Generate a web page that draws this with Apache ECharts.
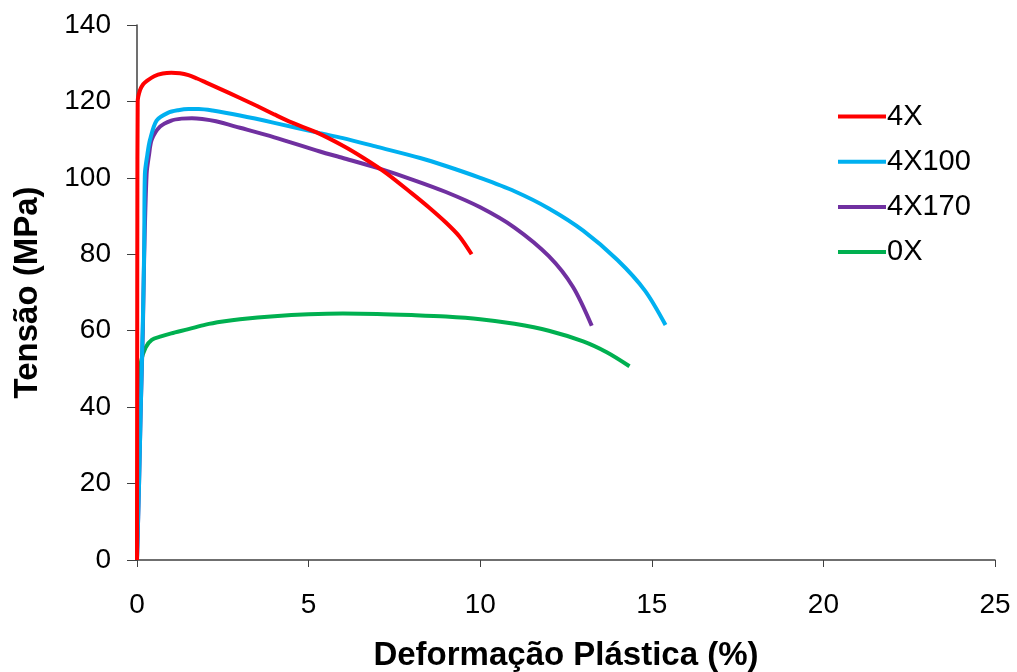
<!DOCTYPE html>
<html><head><meta charset="utf-8">
<script src="https://cdn.jsdelivr.net/npm/echarts@6/dist/echarts.min.js"></script>
<style>html,body{margin:0;padding:0;background:#fff}#c{width:1017px;height:672px}</style>
</head><body><div id="c"></div>
<script>
const seriesNames = ['4X', '4X100', '4X170', '0X'];
const xTicks = [0, 5, 10, 15, 20, 25];
const yTicks = [0, 20, 40, 60, 80, 100, 120, 140];
const s4X = [[0,0],[0.005,50],[0.01,90],[0.02,120],[0.09,123],[0.18,124.5],[0.28,125.3],[0.5,126.6],[0.75,127.3],[1,127.5],[1.25,127.4],[1.5,126.9],[1.75,126],[2,125],[2.42,123.3],[3,120.9],[3.5,118.8],[4,116.6],[4.5,114.5],[5.23,111.9],[6,108.4],[6.6,105.2],[7.27,101.2],[8,96],[8.5,92.3],[9,88.3],[9.4,84.6],[9.75,80]];
const s4X100 = [[0,0],[0.06,20],[0.11,40],[0.17,62],[0.21,82],[0.23,101],[0.3,106],[0.38,110],[0.57,115],[0.9,117],[1.2,117.7],[1.5,118],[1.8,118],[2.2,117.6],[3,116.3],[4,114.4],[5.33,111.7],[6,110.4],[7,108.1],[8.25,105.2],[9,103.1],[10,100],[11,96.5],[12,92],[13,86.2],[14,78.5],[14.8,70.5],[15.4,61.5]];
const s4X170 = [[0,0],[0.06,20],[0.11,40],[0.17,60],[0.21,80],[0.28,101],[0.35,106],[0.43,110],[0.67,113.4],[1,115],[1.3,115.5],[1.6,115.6],[1.9,115.4],[2.3,114.8],[3,113.1],[4,110.6],[5.33,106.9],[6,105.2],[7,102.6],[8.04,99.5],[9,96.3],[10,92.3],[11,87],[12,79.5],[12.7,71.5],[13.25,61.3]];
const s0X = [[0,0],[0.03,30],[0.07,46],[0.12,52],[0.25,55.6],[0.43,57.6],[0.7,58.5],[1,59.3],[1.5,60.4],[2,61.6],[2.5,62.4],[3,63],[4,63.8],[5,64.3],[6,64.5],[7,64.4],[8,64.1],[9,63.7],[10,63],[11,61.8],[12,60],[13,57.2],[13.7,54.3],[14.35,50.7]];
const colors = ['#FF0000', '#00B0F0', '#7030A0', '#00B050'];
const allData = [s4X, s4X100, s4X170, s0X];

const font = 'Liberation Sans, Arial, sans-serif';
const chart = echarts.init(document.getElementById('c'));
chart.setOption({
  animation: false,
  backgroundColor: '#fff',
  grid: {left: 137, right: 22, top: 25, bottom: 112, containLabel: false, outerBoundsMode: 'none'},
  legend: {
    orient: 'vertical', left: 833, top: 97, itemGap: 16.2,
    itemWidth: 48, itemHeight: 4, icon: 'rect',
    textStyle: {fontFamily: font, fontSize: 29, lineHeight: 28, color: '#000', padding: [0, 0, 0, -4]},
    data: seriesNames
  },
  xAxis: [{
    type: 'value', min: 0, max: 25, interval: 5,
    axisLine: {show: true, lineStyle: {color: '#404040', width: 1.5}},
    splitLine: {show: false},
    axisTick: {show: true, length: 7, lineStyle: {color: '#404040'}},
    axisLabel: {fontFamily: font, fontSize: 28, color: '#000', margin: 31},
    name: 'Deformação Plástica (%)', nameLocation: 'middle', nameGap: 79,
    nameTextStyle: {fontFamily: font, fontSize: 33, fontWeight: 'bold', color: '#000'}
  }],
  yAxis: [{
    type: 'value', min: 0, max: 140, interval: 20,
    axisLine: {show: true, lineStyle: {color: '#404040', width: 1.5}},
    splitLine: {show: false},
    axisTick: {show: true, length: 10, lineStyle: {color: '#404040'}},
    axisLabel: {fontFamily: font, fontSize: 28, color: '#000', margin: 26},
    name: 'Tensão (MPa)', nameLocation: 'middle', nameGap: 93,
    nameTextStyle: {fontFamily: font, fontSize: 33, fontWeight: 'bold', color: '#000'}
  }],
  series: seriesNames.map((n, i) => ({
    name: n, type: 'line', data: allData[i], smooth: 0.3, showSymbol: false,
    color: colors[i], lineStyle: {width: 4, color: colors[i]}, z: 10 - i
  }))
});
</script></body></html>
